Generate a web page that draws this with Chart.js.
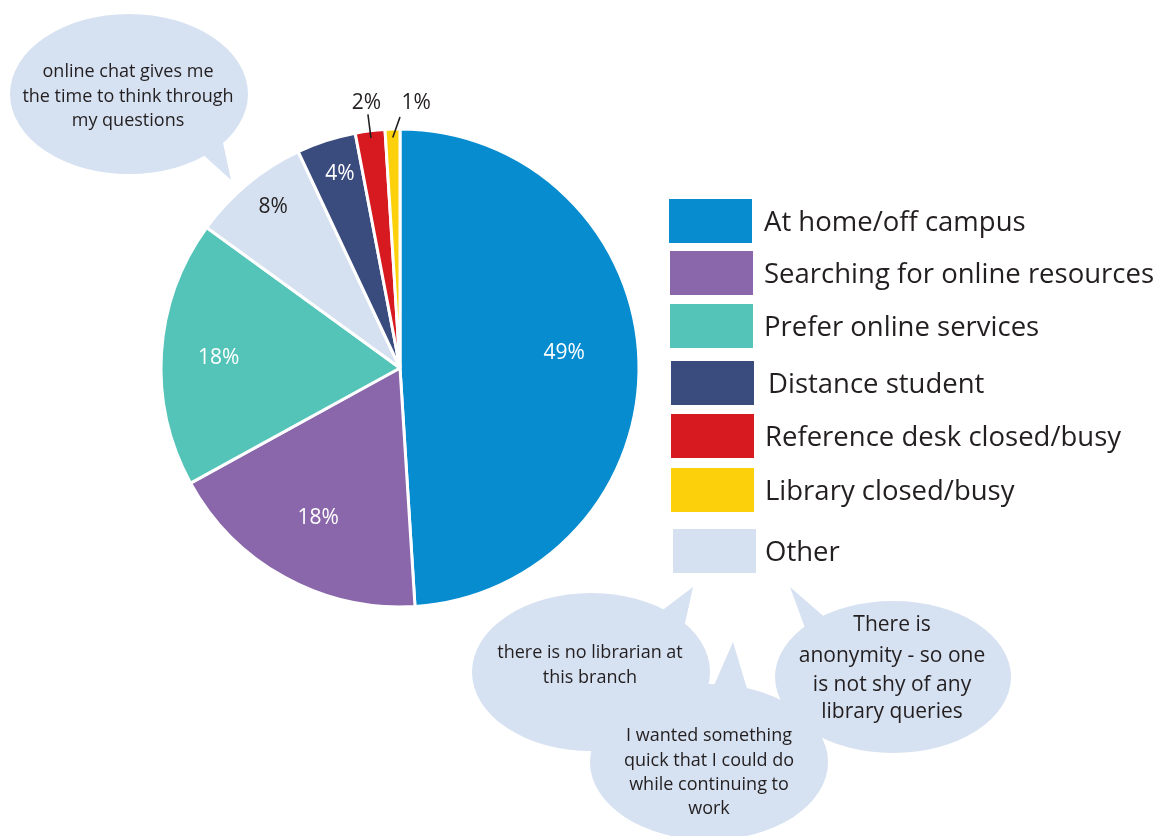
<!DOCTYPE html>
<html>
<head>
<meta charset="utf-8">
<title>Reasons for using online chat</title>
<script src="https://cdn.jsdelivr.net/npm/chart.js@4.4.1/dist/chart.umd.min.js"></script>
<style>
  html, body { margin: 0; padding: 0; background: #fff; }
  #wrap { position: relative; width: 1157px; height: 836px; }
</style>
</head>
<body>
<div id="wrap"><canvas id="chatChart" width="1157" height="836"></canvas></div>
<script>
// slices, clockwise from 12 o'clock
const reasons = ['At home/off campus', 'Searching for online resources', 'Prefer online services',
  'Other', 'Distance student', 'Reference desk closed/busy', 'Library closed/busy'];
const shares = [49, 18, 18, 8, 4, 2, 1];
const sliceColors = ['#068ccf', '#8a66aa', '#54c3b8', '#d5e1f1', '#3a4b7e', '#d71920', '#fdd00c'];

// legend lists "Other" last
const legendOrder = [0, 1, 2, 4, 5, 6, 3];

// free-text answers shown in speech bubbles
const comments = [
  ['online chat gives me', 'the time to think through', 'my questions'],
  ['there is no librarian at', 'this branch'],
  ['There is', 'anonymity - so one', 'is not shy of any', 'library queries'],
  ['I wanted something', 'quick that I could do', 'while continuing to', 'work']
];

const FONT = '"Open Sans", "Noto Sans", sans-serif';
const TEXT = '#231f20';
const BUBBLE = '#d6e1f1';

// where each percentage label sits: fraction of the radius, extra turn in degrees
const labelRadius = [0.69, 0.71, 0.76, 0.86, 0.855, 1.12, 1.115];
const labelTurn = [-3.8, 0, 0, 1.5, 0.9, 0, 5.3];
const labelDark = [false, false, false, true, false, true, true];
// small slices get a leader line from inside the rim to just outside it
const leaders = { 5: { from: 0.97, to: 1.07, turn: 0 },
                  6: { from: 0.965, to: 1.05, turn: 1.8 } };

const deg = Math.PI / 180;

const pieLabels = {
  id: 'pieLabels',
  afterDatasetsDraw(chart) {
    const ctx = chart.ctx;
    const arcs = chart.getDatasetMeta(0).data;
    ctx.save();
    ctx.font = '21px ' + FONT;
    ctx.textAlign = 'center';
    ctx.textBaseline = 'middle';
    arcs.forEach((arc, i) => {
      const p = arc.getProps(['x', 'y', 'startAngle', 'endAngle', 'outerRadius'], true);
      const mid = (p.startAngle + p.endAngle) / 2;
      const r = p.outerRadius;
      const l = leaders[i];
      if (l) {
        const la = mid + l.turn * deg;
        ctx.strokeStyle = TEXT;
        ctx.lineWidth = 1.6;
        ctx.beginPath();
        ctx.moveTo(p.x + Math.cos(mid) * r * l.from, p.y + Math.sin(mid) * r * l.from);
        ctx.lineTo(p.x + Math.cos(la) * r * l.to, p.y + Math.sin(la) * r * l.to);
        ctx.stroke();
      }
      const a = mid + labelTurn[i] * deg;
      ctx.fillStyle = labelDark[i] ? TEXT : '#fff';
      ctx.fillText(shares[i] + '%', p.x + Math.cos(a) * r * labelRadius[i], p.y + Math.sin(a) * r * labelRadius[i] + 1);
    });
    ctx.restore();
  }
};

// legend boxes: left x, vertical centre, text x
const legendRows = [
  [669, 221, 764], [670, 273, 764], [670, 326, 764], [671, 383, 768],
  [671, 436, 765], [671, 490, 765], [673, 551, 765]
];

const sideLegend = {
  id: 'sideLegend',
  afterDraw(chart) {
    const ctx = chart.ctx;
    ctx.save();
    ctx.font = '27.5px ' + FONT;
    ctx.textBaseline = 'middle';
    ctx.textAlign = 'left';
    legendOrder.forEach((idx, row) => {
      const [bx, cy, tx] = legendRows[row];
      ctx.fillStyle = sliceColors[idx];
      ctx.fillRect(bx, cy - 22, 83, 44);
      ctx.fillStyle = TEXT;
      ctx.fillText(reasons[idx], tx, cy + 2);
    });
    ctx.restore();
  }
};

// bubble shapes: ellipse, tail triangle, text size and line centres
const bubbleShapes = [
  { cx: 129, cy: 94, rx: 119, ry: 80, tail: [[198, 150], [222, 138], [231, 180]], size: 18, x: 128, lines: [72, 97, 121] },
  { cx: 591, cy: 672, rx: 119, ry: 79, tail: [[660, 612], [684, 628], [693, 587]], size: 18, x: 590, lines: [653, 678] },
  { cx: 709, cy: 762, rx: 119, ry: 78, tail: [[712, 690], [748, 692], [733, 642]], size: 18, x: 709, lines: [736, 761, 785, 809] },
  { cx: 893, cy: 677, rx: 118, ry: 76, tail: [[805, 628], [828, 620], [790, 587]], size: 21, x: 892, lines: [625, 656, 685, 712] }
];
const bubbleText = [0, 1, 3, 2];

const bubbles = {
  id: 'bubbles',
  afterDraw(chart) {
    const ctx = chart.ctx;
    ctx.save();
    ctx.fillStyle = BUBBLE;
    bubbleShapes.forEach(b => {
      ctx.beginPath();
      ctx.ellipse(b.cx, b.cy, b.rx, b.ry, 0, 0, Math.PI * 2);
      ctx.fill();
      ctx.beginPath();
      ctx.moveTo(b.tail[0][0], b.tail[0][1]);
      ctx.lineTo(b.tail[2][0], b.tail[2][1]);
      ctx.lineTo(b.tail[1][0], b.tail[1][1]);
      ctx.closePath();
      ctx.fill();
    });
    ctx.textAlign = 'center';
    ctx.textBaseline = 'middle';
    ctx.fillStyle = TEXT;
    bubbleShapes.forEach((b, i) => {
      ctx.font = b.size + 'px ' + FONT;
      comments[bubbleText[i]].forEach((t, j) => ctx.fillText(t, b.x, b.lines[j]));
    });
    ctx.restore();
  }
};

const chatCtx = document.getElementById('chatChart').getContext('2d');

const chatChart = new Chart(chatCtx, {
  type: 'pie',
  data: {
    labels: reasons,
    datasets: [{
      data: shares,
      backgroundColor: sliceColors,
      borderColor: '#ffffff',
      borderWidth: 3
    }]
  },
  options: {
    responsive: false,
    maintainAspectRatio: false,
    animation: false,
    events: [],
    radius: 239,
    layout: { padding: { left: 160, top: 128, right: 517, bottom: 228 } },
    plugins: {
      legend: { display: false },
      tooltip: { enabled: false }
    }
  },
  plugins: [pieLabels, sideLegend, bubbles]
});
</script>
</body>
</html>
